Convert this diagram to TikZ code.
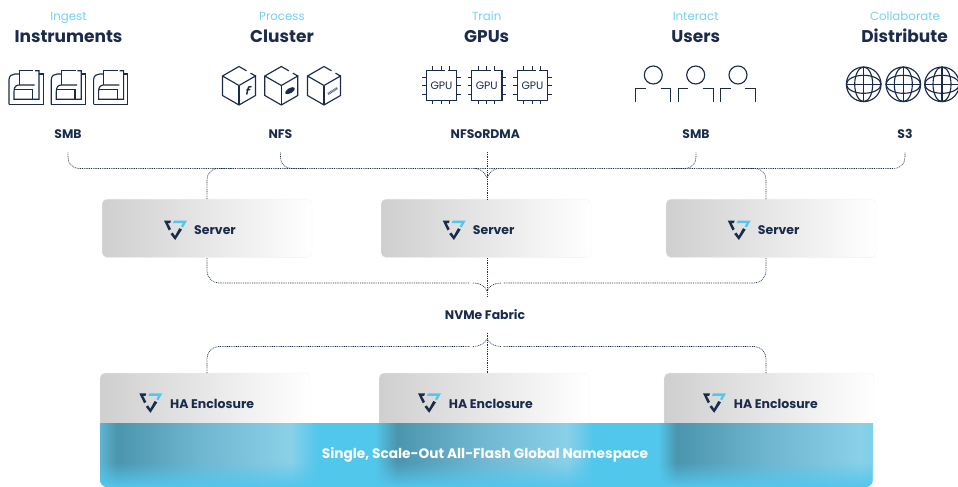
\documentclass[tikz,border=0pt]{standalone}
\usepackage{fontspec}
\setmainfont{Poppins}
\usetikzlibrary{fadings,calc}
\definecolor{ink}{HTML}{1B2B4B}
\definecolor{skyb}{HTML}{52C7EC}
\definecolor{skyt}{HTML}{72D0F1}
\definecolor{darkb}{HTML}{4B95AE}
\definecolor{midb}{HTML}{70B6D0}
\definecolor{lightb}{HTML}{8AD0E7}
\definecolor{edgeb}{HTML}{5EB4D2}
\definecolor{endb}{HTML}{7AD0EC}
\definecolor{boxl}{HTML}{CFCFCF}
\pgfdeclarehorizontalshading{barshade}{100bp}{
color(0bp)=(edgeb); color(25bp)=(edgeb); color(26.1bp)=(darkb); color(31.47bp)=(midb); color(37.29bp)=(lightb);
color(39.04bp)=(skyb); color(42.79bp)=(skyb); color(44.21bp)=(darkb); color(49.58bp)=(midb); color(55.2bp)=(lightb);
color(56.89bp)=(skyb); color(61.1bp)=(skyb); color(62.3bp)=(darkb); color(68.3bp)=(midb); color(74.2bp)=(lightb);
color(75bp)=(endb); color(100bp)=(endb)}
\tikzset{
  icon/.style={draw=ink,line width=1.15pt,line join=miter},
  conn/.style={draw=ink,line width=0.65pt,dash pattern=on 0.9pt off 0.9pt},
  verb/.style={text=skyt,font=\fontsize{11.8}{12}\selectfont,inner sep=0,anchor=base},
  title/.style={text=ink,font=\bfseries\fontsize{17}{18}\selectfont,inner sep=0,anchor=base},
  proto/.style={text=ink,font=\bfseries\fontsize{12.4}{13}\selectfont,inner sep=0,minimum height=36pt},
  boxlabel/.style={text=ink,font=\bfseries\fontsize{12.5}{13}\selectfont,inner sep=0,anchor=west},
  chiplabel/.style={text=ink,font=\fontsize{10.8}{11}\selectfont,inner sep=0},
  unitbox/.style={left color=boxl,right color=white,draw=black!5,line width=0.4pt,rounded corners=5pt,minimum width=210pt,inner sep=0},
  doc/.pic={
    \draw[icon] (0,33.6)--(0,9) .. controls (0,5) and (3,3.3) .. (6,3.3)--(10.3,3.3);
    \draw[icon] (30,3.3)--(34.3,3.3)--(34.3,33.6)--(0,33.6);
    \draw[icon] (10.3,14.3)--(10.3,0)--(24.3,0);
    \draw[icon] (26,0)--(30,0)--(30,28.6)--(5,28.6)--(5,21) .. controls (5,16) and (7,14.3) .. (10.3,14.3)--(25.7,14.3);
    \draw[icon] (5,18.6)--(23.7,18.6)--(23.7,28.6);
  },
  cube/.pic={
    \draw[icon] (24,4.3)--(16.5,0)--(0,9.5)--(0,29)--(16.5,38.5)--(33,29)--(33,9.5)--(16.5,19)--(0,9.5);
    \draw[icon] (16.5,19)--(16.5,38.5);
    \draw[icon] (28,6.6)--(33,9.5);
  },
  chip/.pic={
    \draw[icon] (19,0)--(0,0)--(0,30)--(30.4,30)--(30.4,0)--(22,0);
    \foreach \p in {6.4,14.7,23}{
      \draw[icon,line width=0.9pt] (\p,-4)--(\p,0);
      \draw[icon,line width=0.9pt] (\p,30)--(\p,34);
    }
    \foreach \p in {6.7,15.4,23.7}{
      \draw[icon,line width=0.9pt] (-4,\p)--(0,\p);
      \draw[icon,line width=0.9pt] (30.4,\p)--(34.4,\p);
    }
  },
  person/.pic={
    \draw[icon] (0,0) circle (9pt);
    \draw[icon] (-17.4,26.7)--(-17.4,13.3)--(-7.4,13.3);
    \draw[icon] (7.4,13.3)--(17.4,13.3)--(17.4,26.7);
  },
  globe/.pic={
    \draw[icon] (0,0) circle (17.3pt);
    \draw[icon] (0,0) ellipse (9pt and 17.3pt);
    \draw[icon] (0,0) ellipse (17.3pt and 9pt);
    \draw[icon] (0,-17.3)--(0,17.3);
    \draw[icon] (-17.3,0)--(17.3,0);
  },
  logo/.pic={
    \fill[ink] (0,0)--(7,0)--(6.2,2.5)--(3.8,2.5)--(7,8.5)--(4.8,10)--cycle;
    \fill[ink] (6.5,13.5)--(8.8,12)--(11,15.5)--(15.3,7.7)--(18,9)--(11.2,19.5)--cycle;
    \fill[skyb] (10,0)--(23,0)--(19,7)--(17,5.8)--(19,2.5)--(9,2.5)--cycle;
  }
}
\begin{document}
\begin{tikzpicture}[x=1pt,y=-1pt]
\useasboundingbox (0,0) rectangle (958,487);
% column heads
\node[verb] (v1) at (68.5,20.5) {Ingest};
\node[verb] (v2) at (282,20.5) {Process};
\node[verb] (v3) at (486.7,20.5) {Train};
\node[verb] (v4) at (695.7,20.5) {Interact};
\node[verb] (v5) at (905,20.5) {Collaborate};
\node[title] (t1) at (68.5,42.5) {Instruments};
\node[title] (t2) at (282,42.5) {Cluster};
\node[title] (t3) at (486.7,42.5) {GPUs};
\node[title] (t4) at (695.7,42.5) {Users};
\node[title] (t5) at (904.5,42.5) {Distribute};
% icons
\foreach \x in {9,51.3,93.6} \pic at (\x,70.7) {doc};
\foreach \x in {222.5,264.8,307.5} \pic at (\x,66.5) {cube};
\draw[ink,line width=1.5pt] (251.5,86.5) .. controls (248.5,86) and (248.2,87.5) .. (247.8,89.5)--(246.7,94.5);
\draw[ink,line width=1.3pt] (246.3,90)--(250.3,89.5);
\fill[ink,rotate around={30:(290,90.7)}] (290,90.7) ellipse (5.5pt and 2.6pt);
\draw[ink!70,line width=2.4pt,dash pattern=on 1pt off 0.6pt] (328,94)--(337.5,88);
\foreach \x/\n in {426.3/1,471.6/2,517.3/3}{
  \pic at (\x,70.3) {chip};
  \node[chiplabel] (g\n) at ($(\x,85.5)+(15.2,0)$) {GPU};
}
\foreach \x in {653.3,695.7,738} \pic at (\x,75) {person};
\foreach \x in {863.7,903.3,942} \pic at (\x,84.3) {globe};
% protocol labels
\node[proto] (p1) at (68,134.3) {SMB};
\node[proto] (p2) at (280.5,134.3) {NFS};
\node[proto] (p3) at (485.3,134.3) {NFSoRDMA};
\node[proto] (p4) at (696,134.3) {SMB};
\node[proto] (p5) at (905,134.3) {S3};
% servers
\node[unitbox,minimum height=58.5pt] (s1) at (207,228.3) {};
\node[unitbox,minimum height=58.5pt] (s2) at (486,228.3) {};
\node[unitbox,minimum height=58.5pt] (s3) at (771,228.3) {};
\pic at (164,220.5) {logo};
\pic at (442.7,220.5) {logo};
\pic at (727.7,220.5) {logo};
\node[boxlabel] (sl1) at (194,230.5) {Server};
\node[boxlabel] (sl2) at (472.7,230.5) {Server};
\node[boxlabel] (sl3) at (757.7,230.5) {Server};
% fabric label
\node[proto] (nv) at (485,314.5) {NVMe Fabric};
% enclosures
\node[unitbox,minimum height=60pt] (e1) at (205,403) {};
\node[unitbox,minimum height=60pt] (e2) at (484,403) {};
\node[unitbox,minimum height=60pt] (e3) at (769,403) {};
\pic at (139.3,393.3) {logo};
\pic at (418,393.3) {logo};
\pic at (703,393.3) {logo};
\node[boxlabel] (el1) at (170,403.5) {HA Enclosure};
\node[boxlabel] (el2) at (448.7,403.5) {HA Enclosure};
\node[boxlabel] (el3) at (733.7,403.5) {HA Enclosure};
% namespace bar
\def\barpath{(100,423)--(873,423)--(873,480) .. controls (873,484) and (869,487) .. (866,487)--(107,487) .. controls (104,487) and (100,484) .. (100,480)--cycle}
\begin{scope}
  \clip \barpath;
  \shade[shading=barshade] (100,423) rectangle (873,487);
  \fill[skyb,path fading=north] (100,462) rectangle (873,487);
\end{scope}
\node[text=white,font=\bfseries\fontsize{13.7}{15}\selectfont,inner sep=0] (bar) at (485,455) {Single, Scale-Out All-Flash Global Namespace};
% connector anchor points
\coordinate (busy) at (0,168.5);
\coordinate (j1) at (487,178);
\coordinate (st1) at (207,199);
\coordinate (st3) at (766,199);
\coordinate (sb1) at (207,258);
\coordinate (sb2) at (487,258);
\coordinate (sb3) at (766,258);
\coordinate (p3s) at (487,152);
\coordinate (j2) at (487,291);
\coordinate (nvb) at (487,333);
\coordinate (j3) at (487,339);
\coordinate (et1) at (207,373);
\coordinate (et2) at (487,373);
\coordinate (et3) at (766,373);
% upper bus
\draw[conn,rounded corners=11pt] (p1.south) -- (p1.south |- busy) -- (p5.south |- busy) -- (p5.south);
\draw[conn,rounded corners=11pt] (p2.south) -- (p2.south |- busy) -- ($(p2.south |- busy)+(25,0)$);
\draw[conn,rounded corners=11pt] (p4.south) -- (p4.south |- busy) -- ($(p4.south |- busy)+(-25,0)$);
\draw[conn,rounded corners=11pt] (st1) -- (st1 |- busy) -- ($(st1 |- busy)+(25,0)$);
\draw[conn,rounded corners=11pt] (st3) -- (st3 |- busy) -- ($(st3 |- busy)+(-25,0)$);
\draw[conn] (p3s) -- (s2.north -| p3s);
\draw[conn] ($(j1 |- busy)+(-12,0)$) .. controls ($(j1 |- busy)+(-5,0)$) and ($(j1)+(-2,-4)$) .. (j1);
\draw[conn] ($(j1 |- busy)+(12,0)$) .. controls ($(j1 |- busy)+(5,0)$) and ($(j1)+(2,-4)$) .. (j1);
% fabric, server side
\draw[conn] (sb2) -- (nv.north -| sb2);
\draw[conn,rounded corners=12pt] (sb1) -- (207,283) -- (470,283);
\draw[conn,rounded corners=12pt] (sb3) -- (766,283) -- (503,283);
\draw[conn] (473,283) .. controls (480,283) and (485,286) .. (j2);
\draw[conn] (501,283) .. controls (494,283) and (489,286) .. (j2);
% fabric, enclosure side
\draw[conn] (nv.south -| nvb) -- (et2);
\draw[conn,rounded corners=12pt] (et1) -- (207,346.5) -- (470,346.5);
\draw[conn,rounded corners=12pt] (et3) -- (766,346.5) -- (503,346.5);
\draw[conn] (473,346.5) .. controls (480,346.5) and (485,343) .. (j3);
\draw[conn] (501,346.5) .. controls (494,346.5) and (489,343) .. (j3);
\end{tikzpicture}
\end{document}
